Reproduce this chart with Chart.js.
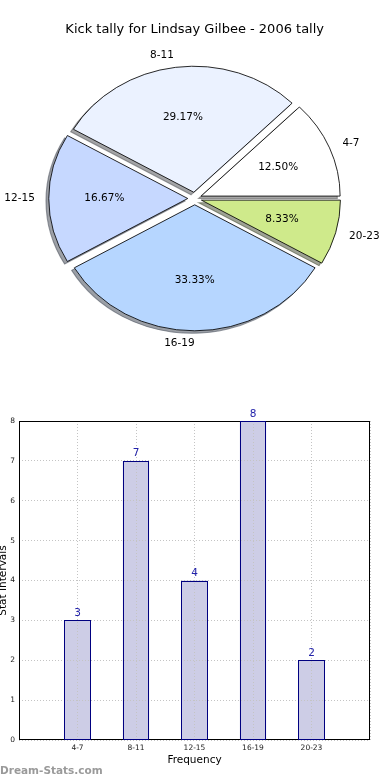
<!DOCTYPE html>
<html>
<head>
<meta charset="utf-8">
<script src="https://cdn.jsdelivr.net/npm/chart.js@4/dist/chart.umd.min.js"></script>
<style>
  body { margin: 0; background: #fff; }
  #wrap { position: relative; width: 390px; height: 780px; overflow: hidden; }
  canvas { position: absolute; left: 0; }
  #mark { position: absolute; left: 0; top: 763px; font: bold 10.5px "DejaVu Sans"; line-height: 14px; color: #9a9a9a; }
</style>
</head>
<body>
<div id="wrap">
  <canvas id="pie" width="390" height="380" style="top:0"></canvas>
  <canvas id="bars" width="390" height="400" style="top:380px"></canvas>
  <div id="mark">Dream-Stats.com</div>
</div>
<script>
const categories = ['4-7', '8-11', '12-15', '16-19', '20-23'];
const counts = [3, 7, 4, 8, 2];
const sliceColors = ['#ffffff', '#ebf2ff', '#c6d8ff', '#b6d6ff', '#cfea8b'];
const yMax = 8;

const FONT = 'DejaVu Sans';
const EXPLODE = 0.05;        // fraction of radius
const STRETCH = 139 / 126;   // the pie is drawn a bit wider than tall

// matplotlib style shadow: 30% of the face colour at half alpha
function shadowOf(hex) {
  const n = parseInt(hex.slice(1), 16);
  const r = Math.round(((n >> 16) & 255) * 0.3), g = Math.round(((n >> 8) & 255) * 0.3), b = Math.round((n & 255) * 0.3);
  return 'rgba(' + r + ',' + g + ',' + b + ',0.5)';
}

const pieLook = {
  id: 'pieLook',
  beforeDatasetsDraw(chart) {
    const {ctx, chartArea: a} = chart;
    const cx = (a.left + a.right) / 2, cy = (a.top + a.bottom) / 2;
    const arcs = chart.getDatasetMeta(0).data;
    const colors = chart.data.datasets[0].backgroundColor;
    ctx.save();
    ctx.translate(cx, cy);
    ctx.scale(STRETCH, 1);
    ctx.translate(-cx, -cy);
    arcs.forEach((el, i) => {
      const mid = (el.startAngle + el.endAngle) / 2;
      const r = el.outerRadius;
      el.x = cx + Math.cos(mid) * EXPLODE * r;
      el.y = cy + Math.sin(mid) * EXPLODE * r;
      const sx = el.x - 0.02 * r, sy = el.y + 0.02 * r;
      ctx.beginPath();
      ctx.moveTo(sx, sy);
      ctx.arc(sx, sy, r, el.startAngle, el.endAngle);
      ctx.closePath();
      ctx.fillStyle = shadowOf(colors[i]);
      ctx.strokeStyle = shadowOf(colors[i]);
      ctx.fill();
      ctx.stroke();
    });
  },
  afterDatasetsDraw(chart) {
    const {ctx, chartArea: a} = chart;
    ctx.restore();
    const cx = (a.left + a.right) / 2;
    const arcs = chart.getDatasetMeta(0).data;
    const values = chart.data.datasets[0].data;
    const total = values.reduce((s, v) => s + v, 0);
    ctx.save();
    ctx.font = '10.5px "' + FONT + '"';
    ctx.fillStyle = '#000';
    ctx.textBaseline = 'middle';
    arcs.forEach((el, i) => {
      const mid = (el.startAngle + el.endAngle) / 2;
      const r = el.outerRadius;
      const c = Math.cos(mid), s = Math.sin(mid);
      const lx = cx + (el.x + c * r * 1.1 - cx) * STRETCH;
      ctx.textAlign = c > 1e-9 ? 'left' : 'right';
      ctx.fillText(chart.data.labels[i], lx, el.y + s * r * 1.1);
      const px = cx + (el.x + c * r * 0.6 - cx) * STRETCH;
      ctx.textAlign = 'center';
      ctx.fillText((values[i] / total * 100).toFixed(2) + '%', px, el.y + s * r * 0.6);
    });
    ctx.restore();
  }
};

new Chart(document.getElementById('pie'), {
  type: 'pie',
  data: {
    labels: categories.slice().reverse(),
    datasets: [{
      data: counts.slice().reverse(),
      backgroundColor: sliceColors.slice().reverse(),
      borderColor: '#000',
      borderWidth: 0.8
    }]
  },
  options: {
    responsive: false,
    animation: false,
    rotation: 90,
    radius: 126,
    layout: { padding: { left: 0, right: 0.6, top: 0, bottom: 30.8 } },
    plugins: {
      legend: { display: false },
      tooltip: { enabled: false },
      title: {
        display: true,
        text: 'Kick tally for Lindsay Gilbee - 2006 tally',
        color: '#000',
        font: { family: FONT, size: 13, weight: 'normal' },
        padding: { top: 22.2, bottom: 10 }
      }
    }
  },
  plugins: [pieLook]
});

const frame = {
  id: 'frame',
  afterDraw(chart) {
    const {ctx, chartArea: a} = chart;
    ctx.save();
    ctx.strokeStyle = '#000';
    ctx.lineWidth = 1;
    ctx.strokeRect(a.left + 0.5, a.top + 0.5, a.right - a.left - 1, a.bottom - a.top - 1);
    ctx.restore();
  }
};

// bar outlines go back on top of the dotted grid, then the value labels
const barValues = {
  id: 'barValues',
  afterDraw(chart) {
    const {ctx} = chart;
    const data = chart.data.datasets[0].data;
    const bars = chart.getDatasetMeta(0).data;
    ctx.save();
    ctx.strokeStyle = '#000080';
    ctx.lineWidth = 1;
    bars.forEach((bar, i) => {
      if (data[i] == null) return;
      const l = Math.round(bar.x - bar.width / 2) + 0.5;
      const r = Math.round(bar.x + bar.width / 2) - 0.5;
      const t = Math.round(bar.y) + 0.5;
      const b = Math.round(bar.base) - 0.5;
      ctx.strokeRect(l, t, r - l, b - t);
    });
    ctx.font = '10.5px "' + FONT + '"';
    ctx.fillStyle = '#2222aa';
    ctx.textAlign = 'center';
    ctx.textBaseline = 'alphabetic';
    bars.forEach((bar, i) => {
      if (data[i] == null) return;
      ctx.fillText(String(data[i]), bar.x, bar.y - 4.5);
    });
    ctx.restore();
  }
};

const tickFont = { family: FONT, size: 7.5 };
const gridStyle = { color: '#c4c4c4', lineWidth: 1, drawTicks: false, z: 1 };

new Chart(document.getElementById('bars'), {
  type: 'bar',
  data: {
    labels: ['', ...categories, ''],
    datasets: [{
      data: [null, ...counts, null],
      backgroundColor: '#cdcde6',
      borderColor: '#000080',
      borderWidth: 0,
      borderSkipped: false,
      barPercentage: 0.45,
      categoryPercentage: 1
    }]
  },
  options: {
    responsive: false,
    animation: false,
    layout: { padding: { left: 0, right: 20, top: 41, bottom: 0 } },
    plugins: { legend: { display: false }, tooltip: { enabled: false } },
    scales: {
      x: {
        offset: false,
        grid: Object.assign({ offset: false }, gridStyle),
        border: { display: false, dash: [1, 2] },
        ticks: { autoSkip: false, maxRotation: 0, padding: 4, font: tickFont, color: '#222' },
        title: { display: true, text: 'Frequency', color: '#000', font: { family: FONT, size: 10.5 }, padding: { top: 0, bottom: 13.7 } },
        afterFit(scale) { scale.height = 40; }
      },
      y: {
        min: 0,
        max: yMax,
        grid: gridStyle,
        border: { display: false, dash: [1, 2] },
        ticks: { stepSize: 1, padding: 4, font: tickFont, color: '#222' },
        title: { display: true, text: 'Stat Intervals', color: '#000', font: { family: FONT, size: 10.5 }, padding: { top: -3.5, bottom: 0 } },
        afterFit(scale) { scale.width = 19; }
      }
    }
  },
  plugins: [frame, barValues]
});
</script>
</body>
</html>
